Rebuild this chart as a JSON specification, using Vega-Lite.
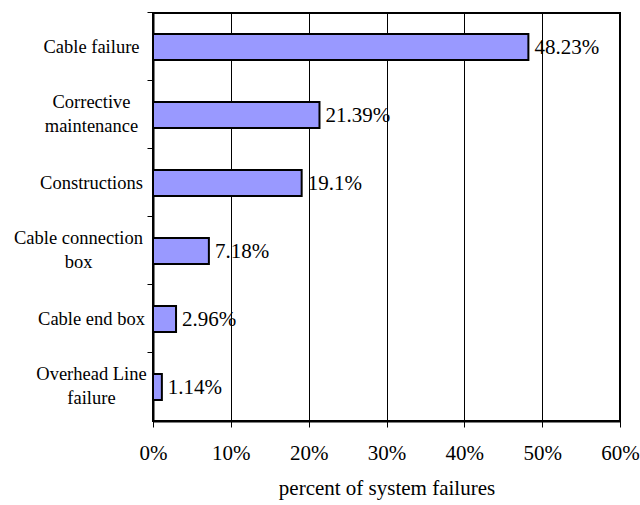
{
  "$schema": "https://vega.github.io/schema/vega-lite/v6.json",
  "autosize": {"type": "none"},
  "width": 467,
  "height": 408,
  "padding": {"left": 153, "top": 13, "right": 20, "bottom": 84},
  "background": "white",
  "config": {
    "font": "Liberation Serif",
    "view": {"stroke": "black", "strokeWidth": 2},
    "axis": {"labelColor": "black", "titleColor": "black", "titleFontWeight": "normal", "labelFont": "Liberation Serif", "titleFont": "Liberation Serif"},
    "text": {"font": "Liberation Serif"}
  },
  "data": {
    "values": [
      {"cause": "Cable failure", "share": 0.4823},
      {"cause": "Corrective|maintenance", "share": 0.2139},
      {"cause": "Constructions", "share": 0.191},
      {"cause": "Cable connection|box", "share": 0.0718},
      {"cause": "Cable end box", "share": 0.0296},
      {"cause": "Overhead Line|failure", "share": 0.0114}
    ]
  },
  "encoding": {
    "y": {
      "field": "cause",
      "type": "nominal",
      "sort": null,
      "scale": {"paddingInner": 0.62, "paddingOuter": 0.31},
      "axis": {
        "title": null,
        "bandPosition": -0.8158,
        "labelExpr": "split(datum.label, '|')",
        "labelFont": "Liberation Serif",
        "labelAlign": "center",
        "labelBaseline": {
          "condition": {"test": "indexof(datum.value, '|') >= 0", "value": "line-bottom"},
          "value": "middle"
        },
        "labelFontSize": 18.5,
        "labelLineHeight": 24,
        "labelPadding": {
          "condition": {"test": "datum.value === 'Cable connection|box'", "value": 69},
          "value": 56
        },
        "domainColor": "black",
        "domainWidth": 2,
        "tickColor": "black",
        "tickSize": 6,
        "tickWidth": 1
      }
    },
    "x": {
      "field": "share",
      "type": "quantitative",
      "scale": {"domain": [0, 0.6], "nice": false},
      "axis": {
        "title": "percent of system failures",
        "titleFontSize": 21,
        "titlePadding": 14,
        "format": "%",
        "values": [0, 0.1, 0.2, 0.3, 0.4, 0.5, 0.6],
        "labelFontSize": 21,
        "labelPadding": 15,
        "labelFlush": false,
        "grid": true,
        "gridColor": "black",
        "gridOpacity": 1,
        "gridWidth": 1,
        "domainColor": "black",
        "domainWidth": 2,
        "tickColor": "black",
        "tickSize": 6,
        "tickWidth": 1
      }
    }
  },
  "layer": [
    {
      "mark": {"type": "bar", "fill": "#9999FF", "stroke": "black", "strokeWidth": 2}
    },
    {
      "mark": {"type": "text", "align": "left", "baseline": "alphabetic", "dy": 7, "dx": 6, "fontSize": 21, "color": "black", "font": "Liberation Serif"},
      "encoding": {"text": {"field": "share", "type": "quantitative", "format": ".2~%"}}
    }
  ]
}
